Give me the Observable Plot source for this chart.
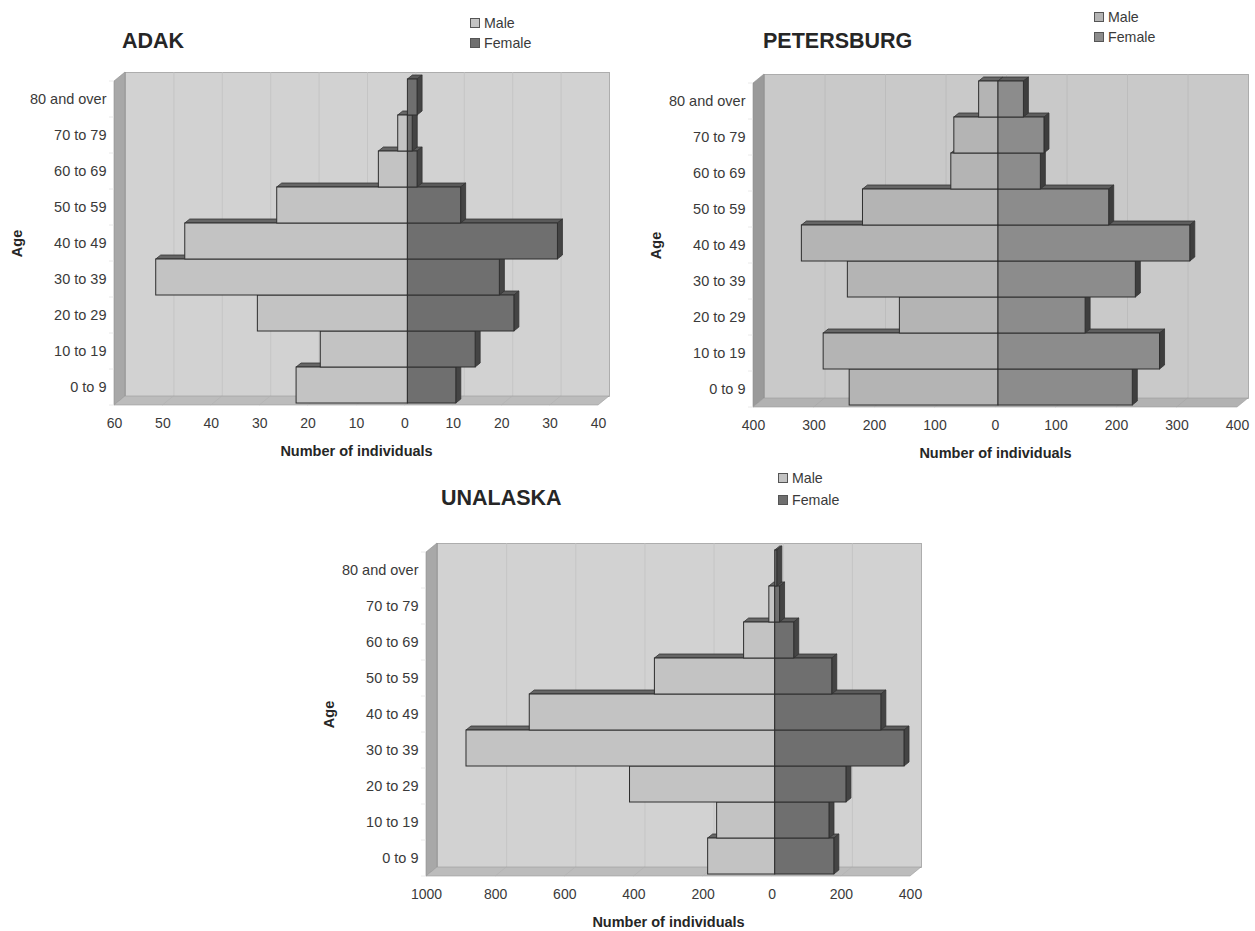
<!DOCTYPE html>
<html><head><meta charset="utf-8">
<script src="https://cdn.jsdelivr.net/npm/d3@7"></script>
<script src="https://cdn.jsdelivr.net/npm/@observablehq/plot@0.6"></script>
<style>
html,body{margin:0;padding:0;background:#fff;}
#page{position:relative;width:1255px;height:931px;overflow:hidden;font-family:"Liberation Sans",Arial,sans-serif;color:#2b2b2b;}
#page svg{position:absolute;overflow:visible;background:transparent;}
.title{position:absolute;font-weight:bold;font-size:21.5px;line-height:24px;color:#262626;white-space:nowrap;}
.leg{position:absolute;font-size:14.2px;line-height:14px;color:#3a3a3a;white-space:nowrap;}
.leg i{position:absolute;left:-14px;top:2px;width:8px;height:8px;border:1px solid #555;}
</style></head><body><div id="page"></div>
<script>
const ages = ["0 to 9","10 to 19","20 to 29","30 to 39","40 to 49","50 to 59","60 to 69","70 to 79","80 and over"];

const adakMale = [23,18,31,52,46,27,6,2,0];
const adakFemale = [10,14,22,19,31,11,2,1,2];
const petersburgMale = [246,289,163,249,325,224,78,73,32];
const petersburgFemale = [222,267,144,227,317,183,70,76,42];
const unalaskaMale = [194,168,420,893,710,348,90,17,0];
const unalaskaFemale = [171,157,206,374,307,165,55,14,6];

const adakTicks = [-60,-50,-40,-30,-20,-10,0,10,20,30,40];
const petersburgTicks = [-400,-300,-200,-100,0,100,200,300,400];
const unalaskaTicks = [-1000,-800,-600,-400,-200,0,200,400];

const greyLight = {wall:"#d2d2d2", side:"#a8a8a8", floor:"#bcbcbc", grid:"#c2c2c2", diag:"#b0b0b0", male:"#c3c3c3", female:"#6f6f6f", maleTop:"#666", femaleTop:"#5a5a5a", femaleSide:"#444"};
const greyMid = {wall:"#c9c9c9", side:"#9a9a9a", floor:"#b2b2b2", grid:"#bababa", diag:"#a6a6a6", male:"#b4b4b4", female:"#8c8c8c", maleTop:"#666", femaleTop:"#5e5e5e", femaleSide:"#3e3e3e"};

const page = document.getElementById("page");
const wallD = [11,-9], barD = [5,-4], barO = [3,-2];

function para(g, d, fill, stroke){ g.append("path").attr("d", d+"Z").attr("fill", fill).attr("stroke", stroke||"#333").attr("stroke-width", stroke?0.6:0.8); }

function pyramid({male, female, ticks, domain, left, width, top, height, frontLeft, pal, title, titleX, titleY, legX, legY, legOff}){
  const rows = ages.map((age,i)=>({age, male:-male[i], female:female[i]}));
  const marginLeft = frontLeft-left, marginTop = 81, marginBottom = height-marginTop-324;
  const plotWidth = 484;
  const wall = (index, s, v, dim) => {
    const g = d3.create("svg:g");
    const l=s.x(domain[0]), r=s.x(domain[1]), b=dim.height-dim.marginBottom, t=dim.marginTop;
    const [dx,dy]=wallD;
    para(g,`M${l},${b}L${l},${t}L${l+dx},${t+dy}L${l+dx},${b+dy}`,pal.side,"#8f8f8f");
    para(g,`M${l},${b}L${r},${b}L${r+dx},${b+dy}L${l+dx},${b+dy}`,pal.floor,"#9a9a9a");
    for(const k of ticks){ if(k===domain[0]||k===domain[1]) continue;
      g.append("line").attr("x1",s.x(k)).attr("x2",s.x(k)+dx).attr("y1",b).attr("y2",b+dy).attr("stroke",pal.diag).attr("stroke-width",0.6);
    }
    for(let i=0;i<=9;i++){ const y=b-(b-t)*i/9;
      g.append("line").attr("x1",l-5).attr("x2",l).attr("y1",y).attr("y2",y).attr("stroke","#e4e4e4").attr("stroke-width",0.8);
    }
    return g.node();
  };
  const faces = (index, s) => {
    const g = d3.create("svg:g");
    const [ox,oy]=barO, [dx,dy]=barD;
    const bw = Math.abs(s.y(ages[0])-s.y(ages[1]));
    for(const d of rows){
      const y0=s.y(d.age)+oy, y1=y0+bw, z=s.x(0)+ox, m=s.x(d.male)+ox, f=s.x(d.female)+ox;
      if(d.male<0) para(g,`M${m},${y0}L${m+dx},${y0+dy}L${z+dx},${y0+dy}L${z},${y0}`,pal.maleTop);
      if(d.female>0){
        para(g,`M${z},${y0}L${z+dx},${y0+dy}L${f+dx},${y0+dy}L${f},${y0}`,pal.femaleTop);
        para(g,`M${f},${y0}L${f+dx},${y0+dy}L${f+dx},${y1+dy}L${f},${y1}`,pal.femaleSide);
      }
    }
    return g.node();
  };
  const plot = Plot.plot({
    width, height, marginLeft, marginTop, marginBottom, marginRight: width-marginLeft-plotWidth,
    style:{fontFamily:'"Liberation Sans",Arial,sans-serif', fontSize:"14px", color:"#3a3a3a", background:"transparent"},
    x:{domain, ticks, label:null},
    y:{domain:ages.slice().reverse(), padding:0, label:null, axis:null},
    marks:[
      Plot.frame({fill:pal.wall, stroke:"#9f9f9f", strokeWidth:0.8, dx:wallD[0], dy:wallD[1]}),
      Plot.ruleX(ticks.filter(k=>k!==domain[0]&&k!==domain[1]),{stroke:pal.grid, strokeWidth:0.8, dx:wallD[0], dy:wallD[1]}),
      wall,
      faces,
      Plot.rectX(rows,{x1:"male", x2:0, y:"age", fill:pal.male, stroke:"#2e2e2e", strokeWidth:1, dx:barO[0], dy:barO[1]}),
      Plot.rectX(rows,{x1:0, x2:"female", y:"age", fill:pal.female, stroke:"#2e2e2e", strokeWidth:1, dx:barO[0], dy:barO[1]}),
      Plot.axisX(ticks,{anchor:"bottom", tickSize:0, tickPadding:13, tickFormat:k=>String(Math.abs(k)), fontSize:14, fill:"#3a3a3a", label:null}),
      Plot.axisY(ages,{anchor:"left", tickSize:0, tickPadding:8, fontSize:14.5, fill:"#3a3a3a", label:null}),
      Plot.text(["Number of individuals"],{frameAnchor:"bottom", dy:50, fontWeight:"bold", fontSize:14.5, fill:"#262626"}),
      Plot.text(["Age"],{frameAnchor:"left", textAnchor:"middle", rotate:-90, dx:-97, dy:0, fontWeight:"bold", fontSize:14.5, fill:"#262626"})
    ]
  });
  plot.style.left = left+"px";
  plot.style.top = top+"px";
  page.appendChild(plot);
  const t = document.createElement("div"); t.className="title"; t.textContent=title; t.style.left=titleX+"px"; t.style.top=titleY+"px"; page.appendChild(t);
  [["Male",pal.male,0],["Female",pal.female,legOff]].forEach(([lab,col,off])=>{
    const l=document.createElement("div"); l.className="leg"; l.style.left=legX+"px"; l.style.top=(legY+off)+"px";
    l.innerHTML=`<i style="background:${col}"></i>${lab}`; page.appendChild(l);
  });
}

pyramid({male:adakMale,female:adakFemale,ticks:adakTicks,domain:[-60,40],left:0,width:625,top:0,height:460,frontLeft:114,pal:greyLight,title:"ADAK",titleX:122,titleY:29,legX:484,legY:16,legOff:20});
pyramid({male:petersburgMale,female:petersburgFemale,ticks:petersburgTicks,domain:[-400,400],left:630,width:625,top:2,height:460,frontLeft:753,pal:greyMid,title:"PETERSBURG",titleX:763,titleY:29,legX:1108,legY:10,legOff:20});
pyramid({male:unalaskaMale,female:unalaskaFemale,ticks:unalaskaTicks,domain:[-1000,400],left:310,width:640,top:471,height:460,frontLeft:426,pal:greyLight,title:"UNALASKA",titleX:441,titleY:486,legX:792,legY:471,legOff:22});
</script></body></html>
